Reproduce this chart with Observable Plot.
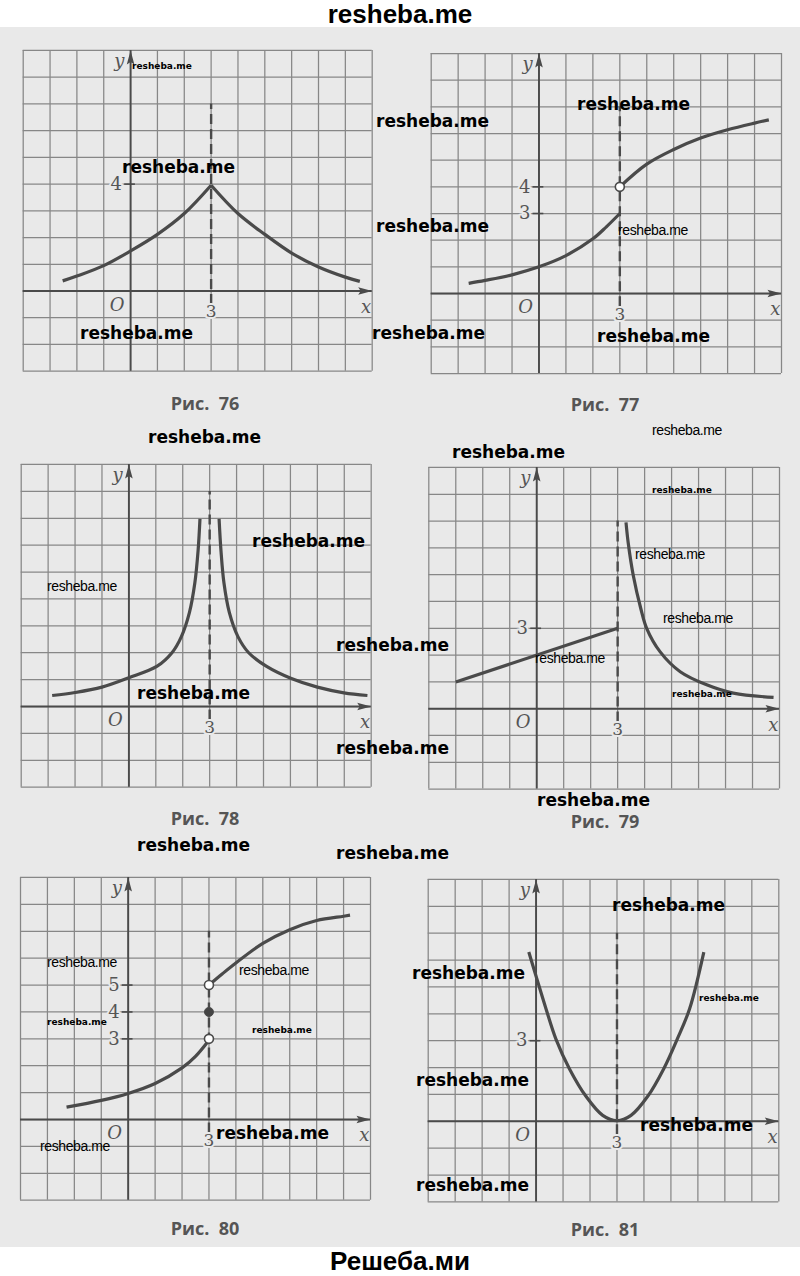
<!DOCTYPE html>
<html>
<head>
<meta charset="utf-8">
<script src="https://cdn.jsdelivr.net/npm/d3@7"></script>
<script src="https://cdn.jsdelivr.net/npm/@observablehq/plot@0.6"></script>
<style>
  body { margin: 0; background: #fff; }
  #page { position: relative; width: 800px; height: 1276px; overflow: hidden; background: #fff; }
  #band { position: absolute; left: 0; top: 27px; width: 800px; height: 1220px; background: #e9e9e9; }
  .panel { position: absolute; width: 400px; }
  .cap { position: absolute; font: bold 18px "Open Sans", sans-serif; color: #555; line-height: 24px; transform: translateX(-50%); white-space: pre; }
  .wm { position: absolute; white-space: nowrap; color: #000; line-height: 20px; }
  .wmL { font: bold 17px "DejaVu Sans", sans-serif; }
  .wmS { font: 14px "Liberation Sans", sans-serif; letter-spacing: -0.4px; }
  .wmB { font: bold 9px "DejaVu Sans", sans-serif; }
  .head { position: absolute; left: 0; width: 800px; text-align: center; font: bold 26px "Liberation Sans", sans-serif; line-height: 28px; color: #000; }
</style>
</head>
<body>
<div id="page"><div id="band"></div></div>
<script>
// ---------- data ----------
// Рис. 76
const f76LeftX  = [-2.53, -2, -1, 0, 1, 2, 3];
const f76LeftY  = [0.38, 0.56, 0.95, 1.5, 2.12, 2.9, 3.96];
const f76RightX = [3, 4, 5, 6, 7, 8, 8.54];
const f76RightY = [3.96, 2.9, 2.12, 1.42, 0.9, 0.52, 0.36];
const f76Ticks  = [4];
// Рис. 77
const f77LeftX  = [-2.61, -2, -1, 0, 1, 2, 2.5, 3];
const f77LeftY  = [0.38, 0.49, 0.7, 1.0, 1.42, 2.05, 2.5, 3.0];
const f77RightX = [3, 4, 5, 6, 7, 8, 8.53];
const f77RightY = [4, 4.85, 5.4, 5.83, 6.14, 6.39, 6.51];
const f77Open   = [[3, 4]];
const f77Ticks  = [3, 4];
// Рис. 78
const f78LeftX  = [-2.85, -2, -1, 0, 1.05, 1.6, 1.95, 2.25, 2.45, 2.57, 2.64];
const f78LeftY  = [0.41, 0.52, 0.72, 1.07, 1.5, 2.0, 2.6, 3.5, 4.6, 5.8, 6.98];
const f78RightX = [3.35, 3.42, 3.53, 3.73, 4.05, 4.45, 5.1, 6.01, 7, 7.99, 8.86];
const f78RightY = [6.98, 5.8, 4.6, 3.5, 2.6, 2.0, 1.5, 1.05, 0.72, 0.51, 0.41];
const f78Ticks  = [];
// Рис. 79
const f79LeftX  = [-3, 3];
const f79LeftY  = [1, 3];
const f79RightX = [3.31, 3.39, 3.58, 3.86, 4.08, 4.57, 5.32, 6.3, 7.29, 8.78];
const f79RightY = [6.95, 6.2, 4.97, 3.73, 2.99, 2.13, 1.38, 0.89, 0.58, 0.42];
const f79Ticks  = [3];
// Рис. 80
const f80LeftX  = [-2.29, -1, 0, 1, 2, 2.5, 3];
const f80LeftY  = [0.46, 0.71, 0.97, 1.34, 1.92, 2.35, 2.95];
const f80RightX = [3, 3.5, 4, 5, 6, 7, 8, 8.24];
const f80RightY = [5, 5.42, 5.82, 6.55, 7.06, 7.4, 7.56, 7.6];
const f80Open   = [[3, 3], [3, 5]];
const f80Filled = [[3, 4]];
const f80Ticks  = [3, 4, 5];
// Рис. 81
const f81X = [-0.27, 0, 0.37, 0.74, 1.24, 1.85, 2.47, 3, 3.52, 4.14, 4.73, 5.23, 5.69, 6.22];
const f81Y = [6.3, 5.4, 4.18, 3.05, 1.95, 0.93, 0.22, 0.02, 0.22, 0.93, 1.95, 3.05, 4.18, 6.3];
const f81Ticks = [3];

const asymptoteX = 3;
const asymptoteTop = { 76: 7, 77: 7, 78: 8, 79: 7, 80: 7, 81: 7 };
const xGrid = d3.range(-4, 10);
const yGrid = d3.range(-3, 10);
const captions = ["Рис.  76", "Рис.  77", "Рис.  78", "Рис.  79", "Рис.  80", "Рис.  81"];

// ---------- layout (pixel boxes of each grid on the page) ----------
const layout = [
  { id: 76, ox: 0,   L: 22.7,  T: 50,    R: 371.7, B: 370.7,  cx: 205, cy: 403 },
  { id: 77, ox: 400, L: 430.7, T: 52.7,  R: 781,   B: 372.7,  cx: 605, cy: 404 },
  { id: 78, ox: 0,   L: 20.7,  T: 464,   R: 370.7, B: 786.7,  cx: 205, cy: 818 },
  { id: 79, ox: 400, L: 428.3, T: 466.7, R: 779,   B: 788.3,  cx: 605, cy: 821 },
  { id: 80, ox: 0,   L: 20,    T: 877.3, R: 370,   B: 1200,   cx: 205, cy: 1228 },
  { id: 81, ox: 400, L: 427.7, T: 879.3, R: 778.3, B: 1201.7, cx: 605, cy: 1229 }
];

const zip = (xs, ys) => xs.map((x, i) => ({ x, y: ys[i] }));
const pts = (arr) => arr.map(([x, y]) => ({ x, y }));

const series = {
  76: { branches: [zip(f76LeftX, f76LeftY), zip(f76RightX, f76RightY)], ticks: f76Ticks, open: [], filled: [] },
  77: { branches: [zip(f77LeftX, f77LeftY), zip(f77RightX, f77RightY)], ticks: f77Ticks, open: pts(f77Open), filled: [] },
  78: { branches: [zip(f78LeftX, f78LeftY), zip(f78RightX, f78RightY)], ticks: f78Ticks, open: [], filled: [] },
  79: { branches: [zip(f79LeftX, f79LeftY), zip(f79RightX, f79RightY)], ticks: f79Ticks, open: [], filled: [] },
  80: { branches: [zip(f80LeftX, f80LeftY), zip(f80RightX, f80RightY)], ticks: f80Ticks, open: pts(f80Open), filled: pts(f80Filled) },
  81: { branches: [zip(f81X, f81Y)], ticks: f81Ticks, open: [], filled: [] }
};

const BG = "#e9e9e9";
const INK = "#4a4a4a";
const LABEL = "#555";

const arrowHead = {
  draw(ctx) {
    ctx.moveTo(0, 0);
    ctx.lineTo(3.8, 14);
    ctx.lineTo(0, 11.5);
    ctx.lineTo(-3.8, 14);
    ctx.closePath();
  }
};

const page = document.getElementById("page");

layout.forEach((p, i) => {
  const s = series[p.id];
  const gridH = p.B - p.T;
  const H = gridH + 40;
  const marks = [
    Plot.ruleX(xGrid, { stroke: "#878787", strokeWidth: 1.25 }),
    Plot.ruleY(yGrid, { stroke: "#878787", strokeWidth: 1.25 }),
    Plot.ruleX([0], { stroke: INK, strokeWidth: 1.9 }),
    Plot.ruleY([0], { stroke: INK, strokeWidth: 1.9 }),
    Plot.dot([{ x: 0, y: 9 }], { x: "x", y: "y", symbol: arrowHead, fill: INK, stroke: "none", r: 5 }),
    Plot.dot([{ x: 9, y: 0 }], { x: "x", y: "y", symbol: arrowHead, fill: INK, stroke: "none", r: 5, rotate: 90 }),
    Plot.ruleX([{ x: asymptoteX, y1: -0.5, y2: asymptoteTop[p.id] }], { x: "x", y1: "y1", y2: "y2", stroke: INK, strokeWidth: 2.4, strokeDasharray: "10,5" }),
    Plot.ruleY(s.ticks, { y: d => d, x1: -0.22, x2: 0.18, stroke: INK, strokeWidth: 1.6 }),
    Plot.text(s.ticks, { y: d => d, x: -0.32, text: d => String(d), textAnchor: "end", fontFamily: "DejaVu Serif", fontSize: 18, fill: LABEL, stroke: BG, strokeWidth: 4 }),
    Plot.text([asymptoteX], { x: d => d, y: -0.78, text: d => String(d), fontFamily: "DejaVu Serif", fontSize: 17, fill: LABEL, stroke: BG, strokeWidth: 4 }),
    Plot.text(["O"], { x: -0.5, y: -0.52, text: d => d, fontFamily: "DejaVu Serif", fontStyle: "italic", fontSize: 18, fill: LABEL }),
    Plot.text(["x"], { x: 8.77, y: -0.6, text: d => d, fontFamily: "DejaVu Serif", fontStyle: "italic", fontSize: 18, fill: LABEL }),
    Plot.text(["y"], { x: -0.42, y: 8.6, text: d => d, fontFamily: "DejaVu Serif", fontStyle: "italic", fontSize: 18, fill: LABEL }),
    ...s.branches.map(b => Plot.line(b, { x: "x", y: "y", curve: "catmull-rom", stroke: INK, strokeWidth: 3.2, strokeLinecap: "butt" })),
    Plot.dot(s.open, { x: "x", y: "y", r: 4.5, fill: "#fff", stroke: INK, strokeWidth: 1.6 }),
    Plot.dot(s.filled, { x: "x", y: "y", r: 4.5, fill: "#444", stroke: INK, strokeWidth: 1 })
  ];
  const chart = Plot.plot({
    width: 400,
    height: H,
    marginLeft: p.L - p.ox,
    marginRight: p.ox + 400 - p.R,
    marginTop: 20,
    marginBottom: 20,
    x: { domain: [-4, 9], axis: null },
    y: { domain: [-3, 9], axis: null },
    style: { background: "transparent", overflow: "visible" },
    marks
  });
  const wrap = document.createElement("div");
  wrap.className = "panel";
  wrap.style.left = p.ox + "px";
  wrap.style.top = (p.T - 20) + "px";
  wrap.appendChild(chart);
  page.appendChild(wrap);

  const cap = document.createElement("div");
  cap.className = "cap";
  cap.textContent = captions[i];
  cap.style.left = p.cx + "px";
  cap.style.top = (p.cy - 12) + "px";
  page.appendChild(cap);
});

// ---------- watermark texts ----------
const wmLarge = [[376,121],[577,104],[122,167],[376,226],[80,333],[372,333],[597,336],[148,437],[452,452],[252,541],[336,645],[137,693],[336,748],[537,800],[137,845],[336,853],[612,905],[412,973],[416,1080],[216,1133],[640,1125],[416,1185]];
const wmSmall = [[618,232],[652,432],[47,588],[635,556],[663,620],[535,660],[47,964],[239,972],[40,1148]];
const wmBold  = [[132,71],[652,495],[672,699],[699,1003],[47,1027],[252,1035]];
function addWm(list, cls) {
  list.forEach(([l, cy]) => {
    const d = document.createElement("div");
    d.className = "wm " + cls;
    d.textContent = "resheba.me";
    d.style.left = l + "px";
    d.style.top = (cy - 10) + "px";
    page.appendChild(d);
  });
}
addWm(wmLarge, "wmL");
addWm(wmSmall, "wmS");
addWm(wmBold, "wmB");

const head = document.createElement("div");
head.className = "head";
head.style.top = "0px";
head.textContent = "resheba.me";
page.appendChild(head);
const foot = document.createElement("div");
foot.className = "head";
foot.style.top = "1247px";
foot.textContent = "Решеба.ми";
page.appendChild(foot);
</script>
</body>
</html>
